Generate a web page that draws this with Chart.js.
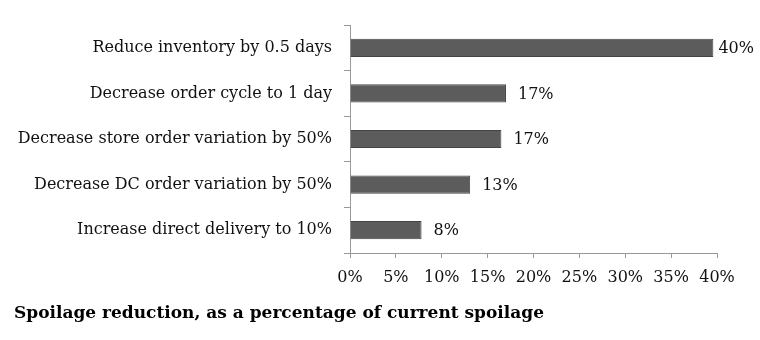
<!DOCTYPE html>
<html>
<head>
<meta charset="utf-8">
<script src="https://cdn.jsdelivr.net/npm/chart.js@4.4.0/dist/chart.umd.min.js"></script>
<style>
  html, body { margin: 0; padding: 0; background: #fff; }
  #wrap { width: 760px; height: 340px; }
</style>
</head>
<body>
<div id="wrap"><canvas id="chart"></canvas></div>
<script>
var categories = [
    'Reduce inventory by 0.5 days',
    'Decrease order cycle to 1 day',
    'Decrease store order variation by 50%',
    'Decrease DC order variation by 50%',
    'Increase direct delivery to 10%'
];
var reduction = [39.6, 17.0, 16.5, 13.1, 7.8];
var xTicks = [0, 5, 10, 15, 20, 25, 30, 35, 40];

var serif = '"DejaVu Serif", Georgia, serif';

// value labels to the right of each bar
var barLabels = {
    id: 'barLabels',
    afterDatasetsDraw: function (chart) {
        var ctx = chart.ctx;
        var meta = chart.getDatasetMeta(0);
        ctx.save();
        ctx.font = '16px ' + serif;
        ctx.fillStyle = '#111';
        ctx.textBaseline = 'middle';
        meta.data.forEach(function (bar, i) {
            var text = Math.round(reduction[i]) + '%';
            var w = ctx.measureText(text).width;
            var x = Math.min(bar.x + 12, chart.width - w - 6);
            ctx.fillText(text, x, bar.y + 1);
        });
        ctx.restore();
    }
};

new Chart(document.getElementById('chart'), {
    type: 'bar',
    data: {
        labels: categories,
        datasets: [{
            data: reduction,
            backgroundColor: '#5c5c5c',
            borderColor: '#444',
            borderWidth: 1,
            categoryPercentage: 1,
            barPercentage: 0.4
        }]
    },
    options: {
        indexAxis: 'y',
        responsive: true,
        maintainAspectRatio: false,
        animation: false,
        layout: { padding: { top: 25, right: 43, left: 14, bottom: 0 } },
        plugins: {
            legend: { display: false },
            tooltip: { enabled: false },
            title: {
                display: true,
                position: 'bottom',
                align: 'start',
                text: 'Spoilage reduction, as a percentage of current spoilage',
                color: '#000',
                font: { family: serif, size: 17, weight: 'bold', lineHeight: 1.2 },
                padding: { top: 17, bottom: 16 }
            }
        },
        scales: {
            x: {
                min: 0,
                max: 40,
                afterBuildTicks: function (scale) {
                    scale.ticks = xTicks.map(function (v) { return { value: v }; });
                },
                afterFit: function (scale) { scale.height = 33.6; },
                grid: { drawOnChartArea: false, drawTicks: true, tickLength: 5, color: '#999' },
                border: { display: true, color: '#999' },
                ticks: {
                    padding: 10,
                    color: '#111',
                    font: { family: serif, size: 16 },
                    maxRotation: 0,
                    callback: function (v) { return v + '%'; }
                }
            },
            y: {
                afterFit: function (scale) { scale.width = 336; },
                grid: { drawOnChartArea: false, drawTicks: true, tickLength: 6, color: '#999', offset: true },
                border: { display: true, color: '#999' },
                ticks: {
                    padding: 12,
                    color: '#111',
                    font: { family: serif, size: 16 }
                }
            }
        }
    },
    plugins: [barLabels]
});
</script>
</body>
</html>
